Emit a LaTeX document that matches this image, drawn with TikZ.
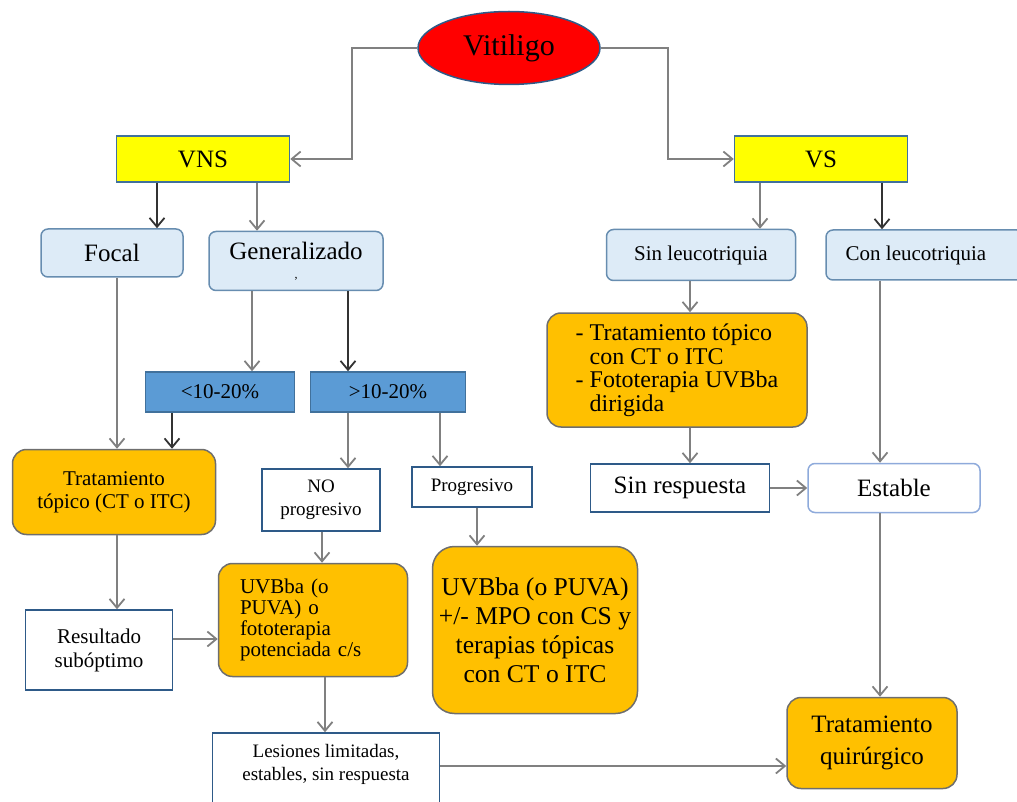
\documentclass[tikz,border=0pt]{standalone}
\usepackage{fontspec}
\setmainfont{Liberation Serif}
\usepackage{color}
\usetikzlibrary{arrows.meta}
\usetikzlibrary{shapes.geometric}

\definecolor{vitred}{HTML}{FF0000}
\definecolor{vnsyellow}{HTML}{FFFF00}
\definecolor{paleblue}{HTML}{DDEBF7}
\definecolor{midblue}{HTML}{5B9BD5}
\definecolor{orangefill}{HTML}{FFC000}
\definecolor{edgeblue}{HTML}{41719C}
\definecolor{edgedark}{HTML}{2E5A88}
\definecolor{edgelight}{HTML}{8EAADB}
\definecolor{edgegray}{HTML}{6E6E6E}
\definecolor{linegray}{HTML}{808080}

\newcommand{\fs}[2]{\fontsize{#1}{#2}\selectfont}

\begin{document}
\begin{tikzpicture}[x=1pt,y=-1pt,
        box/.style={inner sep=0pt,align=center,line width=1.5pt,font=\fs{25}{25}},
        yellowbox/.style={box,draw=edgeblue,fill=vnsyellow,minimum width=173pt,minimum height=46pt},
        lightbox/.style={box,draw=edgeblue!80,fill=paleblue,rounded corners=7pt},
        bluebox/.style={box,draw=edgeblue,fill=midblue,minimum height=40pt,font=\fs{21}{21}},
        orangebox/.style={box,draw=edgegray,fill=orangefill,rounded corners=14pt},
        whitebox/.style={box,draw=edgedark,fill=white},
        whiteround/.style={box,draw=edgelight,fill=white,rounded corners=7pt},
        conn/.style={draw=linegray,line width=1.8pt,-{Straight Barb[length=9pt,width=15pt]}},
        connblk/.style={conn,draw=black!80}]
            \useasboundingbox (0,0) rectangle (1017,802);

            \node[ellipse,draw=edgedark,fill=vitred,line width=1.5pt,inner sep=0pt,minimum width=182pt,minimum height=73pt,font=\fs{30}{30}] (vit) at (509,48) {Vitiligo};
            \node[yellowbox] (vns) at (203,159) {VNS};
            \node[yellowbox] (vs) at (821,159) {VS};

            \node[lightbox,minimum width=142pt,minimum height=48pt] (focal) at (112,253) {Focal};
            \node[lightbox,minimum width=174pt,minimum height=59pt] (gen) at (296,261) {Generalizado\\[-6pt]{\fs{12}{12},}};
            \node[lightbox,minimum width=189pt,minimum height=51pt,font=\fs{21}{21}] (sinleu) at (701,255) {Sin leucotriquia};
            \node[lightbox,minimum width=198pt,minimum height=50pt,font=\fs{21}{21}] (conleu) at (925,255) {Con leucotriquia\hspace*{18pt}};

            \node[bluebox,minimum width=149pt] (menos) at (220,392) {<10-20\%};
            \node[bluebox,minimum width=155pt] (mas) at (388,392) {>10-20\%};

            \node[orangebox,minimum width=260pt,minimum height=114pt,align=left,font=\fs{24}{23.5}] (tratvs) at (677,370) {- Tratamiento tópico\\\phantom{- }con CT o ITC\\- Fototerapia UVBba\\\phantom{- }dirigida};
            \node[orangebox,minimum width=203pt,minimum height=85pt,font=\fs{21}{23}] (trattop) at (114,492) {Tratamiento\\tópico (CT o ITC)};
            \node[whitebox,minimum width=118pt,minimum height=62pt,font=\fs{19}{23}] (noprog) at (321,500) {NO\\progresivo};
            \node[whitebox,minimum width=120pt,minimum height=40pt,font=\fs{19}{19}] (prog) at (472,487) {Progresivo};
            \node[whitebox,minimum width=179pt,minimum height=48pt] (sinresp) at (680,488) {Sin respuesta};
            \node[whiteround,minimum width=172pt,minimum height=49pt] (estable) at (894,488) {Estable};

            \node[whitebox,minimum width=147pt,minimum height=80pt,font=\fs{21}{24}] (result) at (99,650) {Resultado\\subóptimo};
            \node[orangebox,minimum width=189pt,minimum height=113pt,text width=146pt,align=left,font=\fs{21}{21}] (uvbsmall) at (313,620) {UVBba (o\\PUVA) o\\fototerapia\\potenciada c/s};
            \node[orangebox,minimum width=205pt,minimum height=167pt,rounded corners=22pt,font=\fs{25.6}{29}] (uvbbig) at (535,630) {UVBba (o PUVA)\\+/- MPO con CS y\\terapias tópicas\\con CT o ITC};
            \node[whitebox,minimum width=227pt,minimum height=82pt,font=\fs{19}{23}] (les) at (326,774) {Lesiones limitadas,\\estables, sin respuesta\\\mbox{}};
            \node[orangebox,minimum width=170pt,minimum height=91pt,font=\fs{25}{32}] (quir) at (872,743) {Tratamiento\\quirúrgico};

            \draw[conn] (vit.west) -- ++(-65,0) |- (vns.east);
            \draw[conn] (vit.east) -- ++(67,0) |- (vs.west);

            \draw[connblk] ([xshift=-46pt]vns.south) -- ([xshift=45pt]focal.north);
            \draw[conn] ([xshift=54pt]vns.south) -- ([xshift=-39pt]gen.north);
            \draw[conn] ([xshift=-44pt]gen.south) -- ([xshift=32pt]menos.north);
            \draw[connblk] ([xshift=52pt]gen.south) -- ([xshift=-40pt]mas.north);
            \draw[conn] ([xshift=5pt]focal.south) -- ([xshift=3pt]trattop.north);
            \draw[connblk] ([xshift=-48pt]menos.south) -- ([xshift=58pt]trattop.north);
            \draw[conn] ([xshift=-40pt]mas.south) -- ([xshift=27pt]noprog.north);
            \draw[conn] ([xshift=52pt]mas.south) -- ([xshift=-32pt]prog.north);
            \draw[conn] ([xshift=3pt]trattop.south) -- ([xshift=18pt]result.north);
            \draw[conn] ([yshift=11pt]result.east) -- ([yshift=-19pt]uvbsmall.west);
            \draw[conn] ([xshift=1pt]noprog.south) -- ([xshift=9pt]uvbsmall.north);
            \draw[conn] ([xshift=5pt]prog.south) -- ([xshift=-58pt]uvbbig.north);
            \draw[conn] ([xshift=12pt]uvbsmall.south) -- ([xshift=-1pt]les.north);
            \draw[conn] ([yshift=8pt]les.east) -- ([yshift=-23pt]quir.west);

            \draw[conn] ([xshift=-61pt]vs.south) -- ([xshift=59pt]sinleu.north);
            \draw[connblk] ([xshift=61pt]vs.south) -- ([xshift=-43pt]conleu.north);
            \draw[conn] ([xshift=-11pt]sinleu.south) -- ([xshift=13pt]tratvs.north);
            \draw[conn] ([xshift=13pt]tratvs.south) -- ([xshift=10pt]sinresp.north);
            \draw[conn] (sinresp.east) -- (estable.west);
            \draw[conn] ([xshift=-45pt]conleu.south) -- ([xshift=-14pt]estable.north);
            \draw[conn] ([xshift=-14pt]estable.south) -- ([xshift=8pt]quir.north);
        \end{tikzpicture}
\end{document}
